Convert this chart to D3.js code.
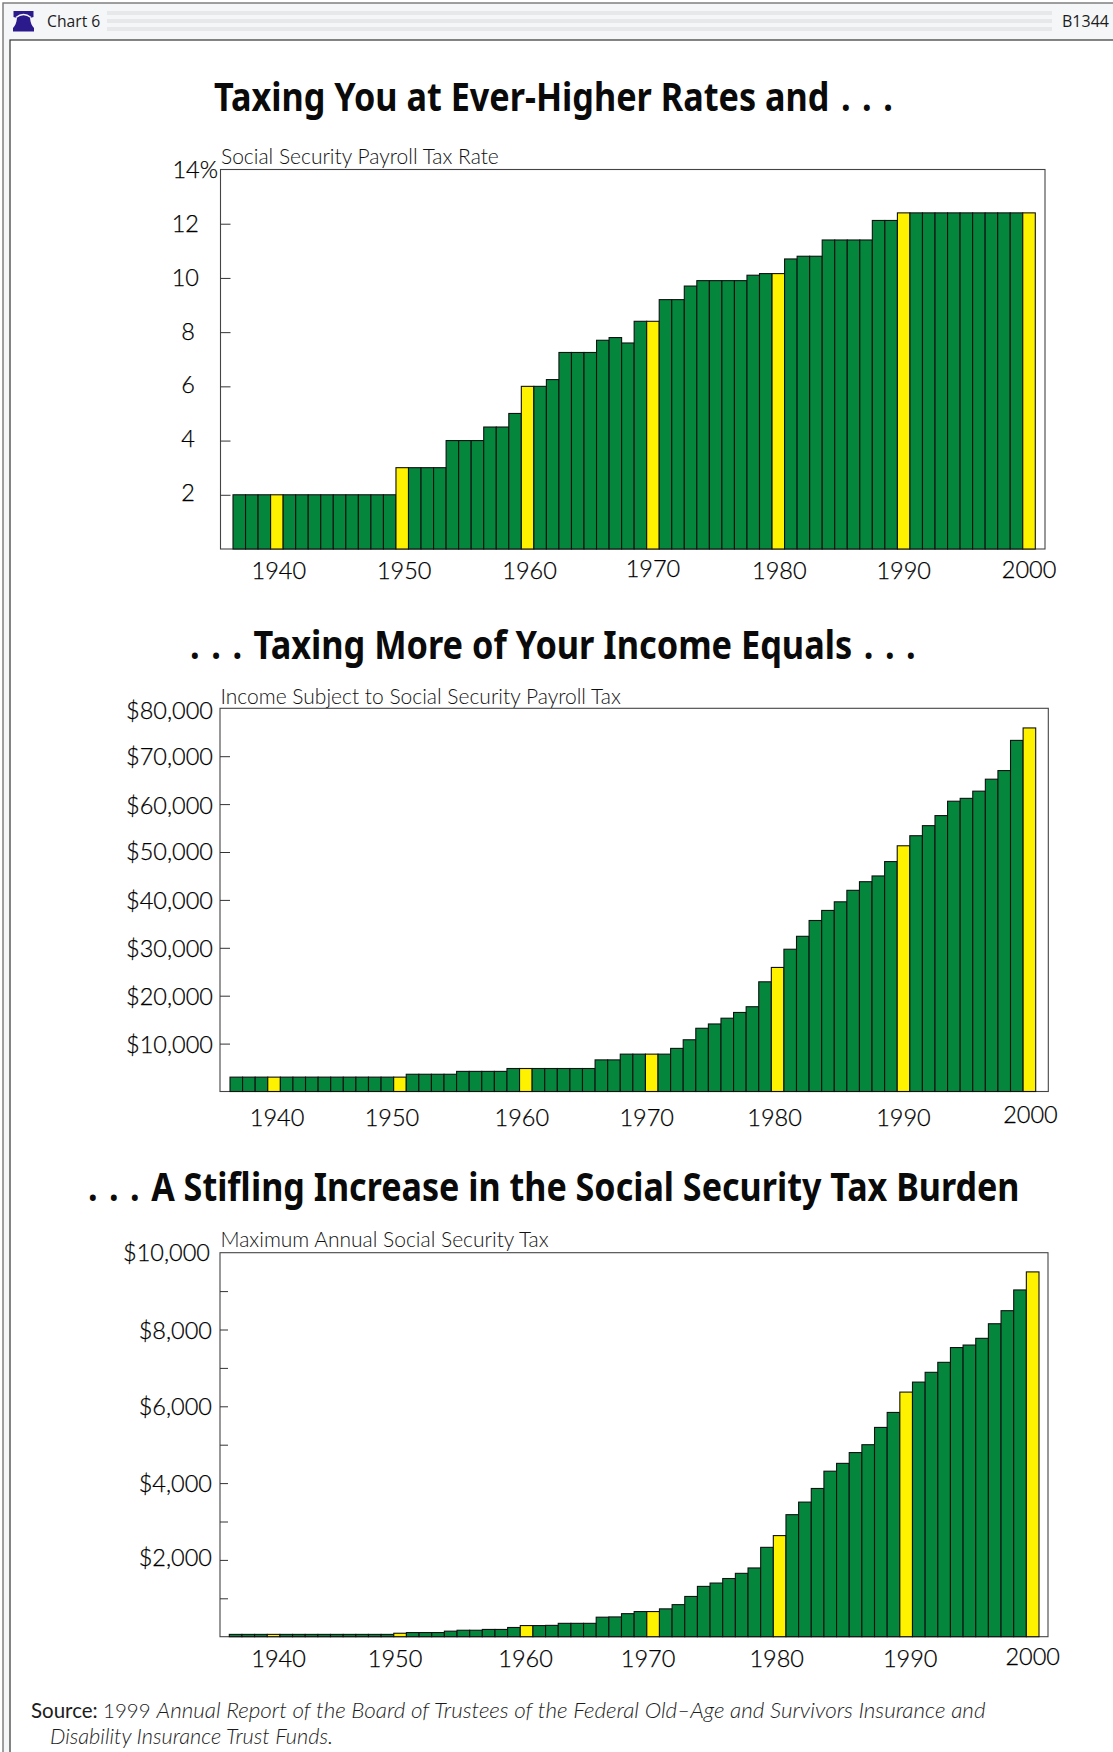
<!DOCTYPE html>
<html>
<head>
<meta charset="utf-8">
<title>Chart 6</title>
<script src="https://cdnjs.cloudflare.com/ajax/libs/d3/7.8.5/d3.min.js"></script>
<style>
  html, body { margin: 0; padding: 0; background: #fff; }
  svg { display: block; }
  text { font-family: Lato, "Open Sans", sans-serif; fill: #1c1c1c; }
  .title { font-family: "Noto Sans", "Open Sans", sans-serif; font-weight: 700; font-size: 39px; fill: #0a0a0a; }
  .sub { font-weight: 300; font-size: 21px; fill: #111; }
  .tick-label { font-weight: 300; font-size: 23.5px; fill: #000; stroke: #000; stroke-width: 0.25px; }
</style>
</head>
<body>
<svg id="page" width="1113" height="1752"></svg>
<script>
const years = d3.range(1937, 2001);

const payrollRate = [
  2,2,2,2,2,2,2,2,2,2,2,2,2,
  3,3,3,3,
  4,4,4,
  4.5,4.5,5,
  6,6,6.25,
  7.25,7.25,7.25,
  7.7,7.8,7.6,8.4,8.4,
  9.2,9.2,9.7,
  9.9,9.9,9.9,9.9,
  10.1,10.16,10.16,
  10.7,10.8,10.8,
  11.4,11.4,11.4,11.4,
  12.12,12.12,
  12.4,12.4,12.4,12.4,12.4,12.4,12.4,12.4,12.4,12.4,12.4
];

const taxableIncome = [
  3000,3000,3000,3000,3000,3000,3000,3000,3000,3000,3000,3000,3000,3000,
  3600,3600,3600,3600,
  4200,4200,4200,4200,
  4800,4800,4800,4800,4800,4800,4800,
  6600,6600,
  7800,7800,7800,7800,
  9000,10800,13200,14100,15300,16500,17700,22900,25900,
  29700,32400,35700,37800,39600,42000,43800,45000,48000,51300,
  53400,55500,57600,60600,61200,62700,65200,67000,73300,75900
];

const maxAnnualTax = [
  60,60,60,60,60,60,60,60,60,60,60,60,60,
  90,108,108,108,144,168,168,
  189,189,240,
  290,290,295,
  348,348,348,
  508,515,600,655,655,
  725,835,1048,1310,1397,1515,1650,1790,2327,2633,
  3178,3505,3860,4310,4514,4795,5000,5450,5840,6370,
  6630,6885,7145,7530,7595,7770,8150,8490,9030,9500
];

const decadeYears = [1940, 1950, 1960, 1970, 1980, 1990, 2000];
const rateTicks = [2, 4, 6, 8, 10, 12, 14];
const incomeTicks = [10000, 20000, 30000, 40000, 50000, 60000, 70000, 80000];
const taxTicks = [1000, 2000, 3000, 4000, 5000, 6000, 7000, 8000, 9000, 10000];

const titles = [
  "Taxing You at Ever-Higher Rates and . . .",
  ". . . Taxing More of Your Income Equals . . .",
  ". . . A Stifling Increase in the Social Security Tax Burden"
];
const subtitles = [
  "Social Security Payroll Tax Rate",
  "Income Subject to Social Security Payroll Tax",
  "Maximum Annual Social Security Tax"
];

const GREEN = "#04873c";
const YELLOW = "#fff200";
const svg = d3.select("#page");

// Window-style header strip and double frame
const frame = svg.append("g");
frame.append("rect").attr("x", 3).attr("y", 3).attr("width", 1120).attr("height", 1760)
  .attr("fill", "#f5f6f8").attr("stroke", "#777").attr("stroke-width", 1.4);
[11, 19, 27].forEach(y => {
  frame.append("rect").attr("x", 107).attr("y", y).attr("width", 945).attr("height", 4).attr("fill", "#e6e8ea");
});
frame.append("rect").attr("x", 10).attr("y", 40).attr("width", 1110).attr("height", 1720)
  .attr("fill", "#fff").attr("stroke", "#333").attr("stroke-width", 1.2);
// Bell mark
frame.append("path")
  .attr("d", "M13.5 11H33.5V17L30 18C30.5 23 32 26 34 28V31.5H13V28C15 26 16.5 23 17 18L13.5 17Z")
  .attr("fill", "#2a1a8c");
frame.append("path").attr("d", "M16 17.5Q23.5 11.5 31 17.5").attr("fill", "none").attr("stroke", "#f5f6f8").attr("stroke-width", 1.5);
frame.append("text").attr("x", 47).attr("y", 27).attr("font-size", 15.7).style("font-family", "'Open Sans'").text("Chart 6");
frame.append("text").attr("x", 1062).attr("y", 27).attr("font-size", 16).style("font-family", "'Open Sans'").text("B1344");

// Panel layout; label nudges follow the hand placement of the year and value labels
const panels = [
  { values: payrollRate, max: 14, ticks: rateTicks,
    fmt: d => d === 14 ? "14%" : String(d),
    labelEnd: d => d === 14 ? 218 : d >= 10 ? 199 : 195,
    yNudge: d => d <= 6 ? 6.5 : 8,
    left: 220.5, right: 1045, top: 169.5, base: 549, barL: 233, barR: 1035.3,
    title: { x: 214, w: 679, y: 110.5 }, subY: 164, tick: 10,
    xNudge: [2,2,2,0,1,0,0], xY: [579,579,579,577,579,579,578] },
  { values: taxableIncome, max: 80000, ticks: incomeTicks,
    fmt: d => "$" + d3.format(",")(d),
    labelEnd: () => 213,
    yNudge: d => d === 80000 ? 11 : d === 60000 ? 10 : d === 50000 ? 8 : 9,
    left: 220, right: 1048.3, top: 708.3, base: 1091.5, barL: 230, barR: 1035.7,
    title: { x: 190, w: 726, y: 658.5 }, subY: 704, tick: 10,
    xNudge: [3,-8,-4,-5,-3,0,1], xY: [1126,1126,1126,1126,1126,1126,1123] },
  { values: maxAnnualTax, max: 10000, ticks: taxTicks,
    fmt: d => "$" + d3.format(",")(d),
    labelEnd: d => d === 10000 ? 210 : 212,
    yNudge: d => d === 10000 ? 8 : d === 2000 ? 6.5 : 9,
    left: 220, right: 1048, top: 1252.7, base: 1636.7, barL: 229.3, barR: 1039,
    title: { x: 88, w: 932, y: 1200.5 }, subY: 1247, tick: 8,
    xNudge: [5,-5,-1,-5,-3,4,0], xY: [1667,1667,1667,1667,1667,1667,1665] }
];

panels.forEach((p, i) => {
  const g = svg.append("g");
  const x = d3.scaleBand().domain(years).range([p.barL, p.barR]);
  const y = d3.scaleLinear().domain([0, p.max]).range([p.base, p.top]);

  // Heading: runs of dots keep wider gaps, then the line is condensed to its measure
  const head = g.append("text").attr("class", "title");
  titles[i].split(/(\. \. \. ?| \. \. \.)/).filter(Boolean).forEach(part => {
    head.append("tspan").style("word-spacing", part.includes(". .") ? "3px" : "0").text(part);
  });
  const natural = head.node().getComputedTextLength();
  head.attr("transform", `translate(${p.title.x},${p.title.y}) scale(${p.title.w / natural},1)`);

  g.append("text").attr("class", "sub").attr("x", p.left + 0.5).attr("y", p.subY).text(subtitles[i]);

  g.append("rect").attr("x", p.left).attr("y", p.top)
    .attr("width", p.right - p.left).attr("height", p.base - p.top)
    .attr("fill", "#fff").attr("stroke", "#444").attr("stroke-width", 1.1);

  g.selectAll(".bar").data(years).join("rect")
    .attr("class", "bar")
    .attr("x", d => x(d))
    .attr("width", x.bandwidth())
    .attr("y", (d, k) => y(p.values[k]))
    .attr("height", (d, k) => p.base - y(p.values[k]))
    .attr("fill", d => d % 10 === 0 ? YELLOW : GREEN)
    .attr("stroke", "#111").attr("stroke-width", 1.1);

  // Value axis with inward ticks
  const yAxis = d3.axisRight(y).tickValues(p.ticks.filter(t => t < p.max)).tickSize(p.tick).tickFormat("");
  const yg = g.append("g").attr("transform", `translate(${p.left},0)`).call(yAxis);
  yg.select(".domain").remove();
  yg.selectAll("line").attr("stroke", "#333").attr("stroke-width", 1);

  g.selectAll(".vlabel").data(i === 2 ? p.ticks.filter(t => t % 2000 === 0) : p.ticks).join("text")
    .attr("class", "tick-label vlabel")
    .attr("text-anchor", "end")
    .attr("x", p.labelEnd)
    .attr("y", d => y(d) + p.yNudge(d))
    .text(p.fmt);

  // Year labels sit under the bar of their decade year
  g.selectAll(".xlabel").data(decadeYears).join("text")
    .attr("class", "tick-label xlabel")
    .attr("text-anchor", "middle")
    .attr("x", (d, k) => x(d) + x.bandwidth() / 2 + p.xNudge[k])
    .attr("y", (d, k) => p.xY[k])
    .text(d => d);
});

// Source note
const note = svg.append("g").attr("font-size", 20.5);
note.append("text").attr("x", 31).attr("y", 1718).attr("font-weight", 400).text("Source:");
note.append("text").attr("x", 103).attr("y", 1718).attr("font-weight", 300).text("1999");
note.append("text").attr("x", 156.5).attr("y", 1718).attr("font-weight", 300).attr("font-style", "italic")
  .attr("font-size", 22).attr("textLength", 829).attr("lengthAdjust", "spacingAndGlyphs")
  .text("Annual Report of the Board of Trustees of the Federal Old–Age and Survivors Insurance and");
note.append("text").attr("x", 50).attr("y", 1744).attr("font-weight", 300).attr("font-style", "italic")
  .attr("font-size", 22).attr("textLength", 283).attr("lengthAdjust", "spacingAndGlyphs")
  .text("Disability Insurance Trust Funds.");
</script>
</body>
</html>
